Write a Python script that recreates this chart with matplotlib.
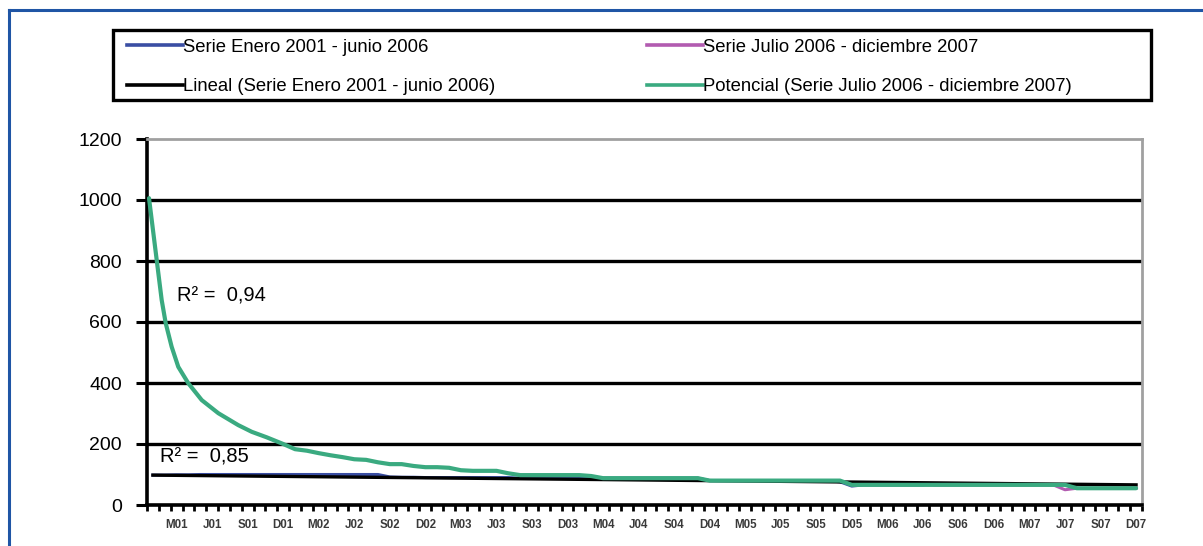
import matplotlib
matplotlib.use("Agg")
import matplotlib.pyplot as plt
from matplotlib.lines import Line2D
from matplotlib.patches import Rectangle

# ------------------------------------------------------------------
# data (monthly, Jan 2001 = index 0 ... Dec 2007 = 83)
# ------------------------------------------------------------------
serie_2001_2006 = [98, 98, 99, 99, 100, 100, 100, 100, 100, 100, 100, 100,
                   100, 100, 100, 100, 100, 100, 100, 100, 92, 91, 91, 90,
                   90, 90, 90, 90, 90, 90, 90, 88, 88, 88, 88, 88,
                   88, 88, 88, 88, 88, 88, 88, 88, 88, 88, 88, 80,
                   80, 80, 80, 80, 80, 80, 80, 80, 80, 80, 76, 62,
                   66, 66, 66, 66, 66, 66]
serie_2006_2007 = [66, 66, 66, 66, 66, 66, 66, 66, 66, 66, 66, 50,
                   55, 55, 55, 55, 55, 55]

# potential trend: smooth head read at fractional positions, then monthly
potencial_head_x = [-0.33, 0.32, 0.74, 1.08, 1.58, 2.14, 2.99, 4.12, 5.52,
                    7.2, 8.34, 9.6]
potencial_head_y = [1006, 803, 672, 596, 519, 453, 399, 344, 301,
                    262, 240, 222]
potencial_tail = [200,
                  183, 178, 170, 163, 157, 150, 148, 140, 134, 134, 128, 124,
                  124, 122, 114, 112, 112, 112, 104, 98, 98, 98, 98, 98,
                  98, 95, 88, 88, 88, 88, 88, 88, 88, 88, 88, 80,
                  80, 80, 80, 80, 80, 80, 80, 80, 80, 80, 80, 66,
                  66, 66, 66, 66, 66, 66, 66, 66, 66, 66, 66, 66,
                  66, 66, 66, 66, 66, 66, 55, 55, 55, 55, 55, 55]
tail_start = 11
lineal_x = [0, 83]
lineal_y = [98, 66]

tick_labels = ["M01", "J01", "S01", "D01", "M02", "J02", "S02", "D02",
               "M03", "J03", "S03", "D03", "M04", "J04", "S04", "D04",
               "M05", "J05", "S05", "D05", "M06", "J06", "S06", "D06",
               "M07", "J07", "S07", "D07"]
y_ticks = [0, 200, 400, 600, 800, 1000, 1200]
r2_labels = ["R² =  0,94", "R² =  0,85"]

names = ["Serie Enero 2001 - junio 2006", "Serie Julio 2006 - diciembre 2007",
         "Lineal (Serie Enero 2001 - junio 2006)",
         "Potencial (Serie Julio 2006 - diciembre 2007)"]
colors = ["#3a4ea3", "#b25bb0", "#000000", "#3aaa80"]

plt.rcParams["font.family"] = ["Liberation Sans", "DejaVu Sans"]

W, H = 1203, 546
fig = plt.figure(figsize=(W / 100, H / 100), dpi=100)

# axes box in pixels: x 147..1142, y 139..505
ax = fig.add_axes([147 / W, (H - 505) / H, (1142 - 147) / W, (505 - 139) / H])

n1 = len(serie_2001_2006)
ax.plot(range(n1), serie_2001_2006, color=colors[0], lw=2.2, zorder=3)
ax.plot(range(n1, n1 + len(serie_2006_2007)), serie_2006_2007,
        color=colors[1], lw=2.2, zorder=3)
ax.plot(lineal_x, lineal_y, color=colors[2], lw=2.4, zorder=4)
pot_x = potencial_head_x + list(range(tail_start, tail_start + len(potencial_tail)))
pot_y = potencial_head_y + potencial_tail
ax.plot(pot_x, pot_y, color=colors[3], lw=3.0, zorder=5,
        solid_joinstyle="round", solid_capstyle="round")

ax.set_xlim(-0.5, 83.5)
ax.set_ylim(0, 1200)

# grid lines
for y in y_ticks[1:-1]:
    ax.axhline(y, color="black", lw=2.4, zorder=1)

ax.spines["left"].set_linewidth(2.6)
ax.spines["bottom"].set_linewidth(2.6)
ax.spines["top"].set_color("#a0a0a0")
ax.spines["right"].set_color("#a0a0a0")
ax.spines["top"].set_linewidth(2.0)
ax.spines["right"].set_linewidth(2.0)

ax.set_yticks(y_ticks)
ax.set_yticklabels([str(v) for v in y_ticks], fontsize=14)
ax.tick_params(axis="y", length=8, width=2.2, pad=10, color="black")

label_pos = [2 + 3 * i for i in range(len(tick_labels))]
ax.set_xticks(label_pos)
ax.set_xticklabels(tick_labels, fontsize=8.3, fontweight="bold", color="#3a3a3a")
ax.set_xticks([i - 0.5 for i in range(85)], minor=True)
ax.tick_params(axis="x", which="major", length=0, pad=10)
ax.tick_params(axis="x", which="minor", length=4, width=2.0, color="black")

ax.text(2.0, 685, r2_labels[0], fontsize=14.5, va="center", ha="left")
ax.text(0.6, 157, r2_labels[1], fontsize=14.5, va="center", ha="left")

# legend box
fig.patches.append(Rectangle((113 / W, 1 - 100 / H), (1151 - 113) / W, 70 / H,
                             transform=fig.transFigure, fill=False,
                             edgecolor="black", lw=2.4))
handles = [Line2D([], [], color=c, lw=2.6) for c in colors]
order = [0, 2, 1, 3]
leg = fig.legend([handles[i] for i in order], [names[i] for i in order],
                 ncol=2, loc="upper left",
                 bbox_to_anchor=(127 / W, 1 - 38.5 / H),
                 frameon=False, borderpad=0, borderaxespad=0,
                 handlelength=3.03, handletextpad=0.0, columnspacing=8.2,
                 labelspacing=1.22, prop={"size": 13.3})

# blue outer frame (top and left)
fig.add_artist(Line2D([9 / W, 1], [1 - 10 / H, 1 - 10 / H],
                      transform=fig.transFigure, color="#1f55a5", lw=2.2))
fig.add_artist(Line2D([9 / W, 9 / W], [0, 1 - 10 / H],
                      transform=fig.transFigure, color="#1f55a5", lw=2.2))

fig.savefig("out.png", dpi=100)
